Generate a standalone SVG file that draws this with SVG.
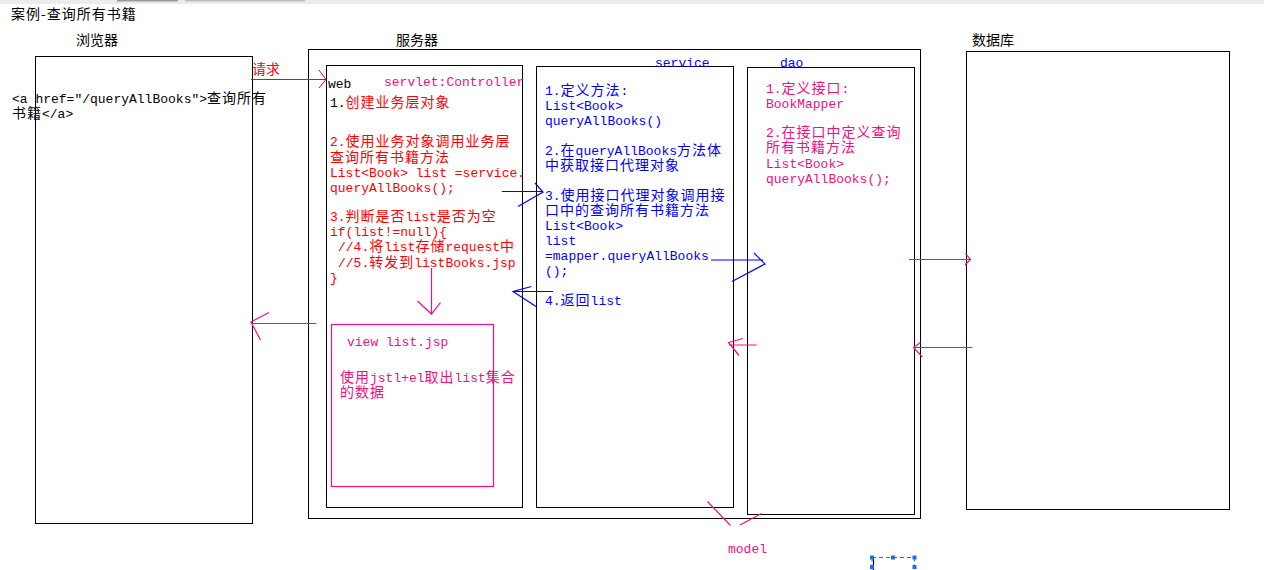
<svg xmlns="http://www.w3.org/2000/svg" width="1264" height="570" viewBox="0 0 1264 570">
  <style>
    .box{fill:none;stroke:#000;stroke-width:1}
    .m{font-family:"Liberation Mono",monospace;font-size:13px}
    .c{font-family:"Noto Sans CJK SC",sans-serif;font-size:14px;letter-spacing:1px}
    .h{font-family:"Noto Sans CJK SC",sans-serif;font-size:14px;fill:#000}
    .k{fill:#000}
    .red{fill:#f00}
    .blue{fill:#00f}
    .pink{fill:#f0107f}
    .lr{stroke:#f00;fill:none;stroke-width:1}
    .lb{stroke:#00f;fill:none;stroke-width:1.2}
    .lp{stroke:#f0107f;fill:none;stroke-width:1.2}
  </style>

  <rect x="0" y="0" width="1264" height="570" fill="#fff"/>
  <!-- window chrome strip -->
  <rect x="0" y="0" width="1264" height="4" fill="#ececec"/>
  <rect x="117" y="0" width="61" height="1.5" fill="#9a9a9a"/>
  <rect x="185" y="0" width="120" height="1.5" fill="#bdbdbd"/>

  <text class="c" x="11" y="19">案例-查询所有书籍</text>

  <!-- browser -->
  <g id="browser">
    <text class="h" x="76" y="45">浏览器</text>
    <rect class="box" x="35.5" y="56.5" width="217" height="467"/>
    <text class="m k"><tspan x="12" y="103">&lt;a href="/queryAllBooks"&gt;<tspan class="c">查询所有</tspan></tspan><tspan x="12" y="118"><tspan class="c">书籍</tspan>&lt;/a&gt;</tspan></text>
  </g>

  <!-- server frame -->
  <g id="server">
    <text class="h" x="396" y="45">服务器</text>
    <rect class="box" x="308.5" y="49.5" width="612" height="469"/>
  </g>

  <!-- web layer: servlet controller -->
  <g id="web">
    <rect class="box" x="326.5" y="65.5" width="196" height="442"/>
    <text class="m k" x="328" y="88">web</text>
    <text class="m pink" x="384" y="86">servlet:Controller</text>
    <text class="m red">
      <tspan x="330" y="107"><tspan class="k">1.</tspan><tspan class="c">创建业务层对象</tspan></tspan>
      <tspan x="330" y="146">2.<tspan class="c">使用业务对象调用业务层</tspan></tspan>
      <tspan x="330" y="162"><tspan class="c">查询所有书籍方法</tspan></tspan>
      <tspan x="330" y="177">List&lt;Book&gt; list =service.</tspan>
      <tspan x="330" y="192">queryAllBooks();</tspan>
      <tspan x="330" y="221">3.<tspan class="c">判断是否</tspan>list<tspan class="c">是否为空</tspan></tspan>
      <tspan x="330" y="236">if(list!=null){</tspan>
      <tspan x="338" y="251">//4.<tspan class="c">将</tspan>list<tspan class="c">存储</tspan>request<tspan class="c">中</tspan></tspan>
      <tspan x="338" y="267">//5.<tspan class="c">转发到</tspan>listBooks.jsp</tspan>
      <tspan x="330" y="282">}</tspan>
    </text>
  </g>

  <!-- view page -->
  <g id="view">
    <rect x="331.5" y="324.5" width="162" height="162" fill="none" stroke="#f0107f" stroke-width="1.2"/>
    <text class="m pink" x="347" y="346">view list.jsp</text>
    <text class="m pink">
      <tspan x="340" y="382"><tspan class="c">使用</tspan>jstl+el<tspan class="c">取出</tspan>list<tspan class="c">集合</tspan></tspan>
      <tspan x="340" y="397"><tspan class="c">的数据</tspan></tspan>
    </text>
  </g>

  <!-- service layer -->
  <g id="service">
    <rect class="box" x="536.5" y="66.5" width="197" height="441"/>
    <text class="m blue" x="655" y="67">service</text>
    <text class="m blue">
      <tspan x="545" y="95">1.<tspan class="c">定义方法</tspan>:</tspan>
      <tspan x="545" y="110">List&lt;Book&gt;</tspan>
      <tspan x="545" y="125">queryAllBooks()</tspan>
      <tspan x="545" y="155">2.<tspan class="c">在</tspan>queryAllBooks<tspan class="c">方法体</tspan></tspan>
      <tspan x="545" y="170"><tspan class="c">中获取接口代理对象</tspan></tspan>
      <tspan x="545" y="200">3.<tspan class="c">使用接口代理对象调用接</tspan></tspan>
      <tspan x="545" y="215"><tspan class="c">口中的查询所有书籍方法</tspan></tspan>
      <tspan x="545" y="230">List&lt;Book&gt;</tspan>
      <tspan x="545" y="245">list</tspan>
      <tspan x="545" y="260">=mapper.queryAllBooks</tspan>
      <tspan x="545" y="275">();</tspan>
      <tspan x="545" y="305">4.<tspan class="c">返回</tspan>list</tspan>
    </text>
  </g>

  <!-- dao layer -->
  <g id="dao">
    <rect class="box" x="747.5" y="67.5" width="167" height="447"/>
    <text class="m blue" x="780" y="67">dao</text>
    <text class="m pink">
      <tspan x="766" y="93">1.<tspan class="c">定义接口</tspan>:</tspan>
      <tspan x="766" y="108">BookMapper</tspan>
      <tspan x="766" y="137">2.<tspan class="c">在接口中定义查询</tspan></tspan>
      <tspan x="766" y="152"><tspan class="c">所有书籍方法</tspan></tspan>
      <tspan x="766" y="168">List&lt;Book&gt;</tspan>
      <tspan x="766" y="183">queryAllBooks();</tspan>
    </text>
  </g>

  <!-- database -->
  <g id="database">
    <text class="h" x="972" y="45">数据库</text>
    <rect class="box" x="966.5" y="51.5" width="263" height="458"/>
  </g>

  <!-- model label -->
  <g id="model">
    <text class="m pink" x="728" y="553">model</text>
  </g>

  <!-- connectors -->
  <g id="connectors">
    <!-- request: browser to web -->
    <text class="h red" x="252" y="74" style="fill:#f00">请求</text>
    <path class="lr" d="M251 79.5H326M319 70L326 79.5L319 88"/>
    <!-- web to service -->
    <path class="lb" d="M502 191.5H543M535 183L543 192L518 206.5"/>
    <!-- service back to web -->
    <path class="lb" d="M553 291.5H513M531.5 286.5L513 291.5L536 306.5"/>
    <!-- service to dao -->
    <path class="lb" d="M711 260H763M754 253L765 264L732 281.5"/>
    <!-- dao to database -->
    <path class="lp" d="M909 259.5H970M965.5 253.5L970.5 259.5L965 265"/>
    <!-- database back to dao -->
    <path class="lp" d="M972.5 347.5H913.5M920.5 342.5L913.5 347.5L922.5 357"/>
    <!-- dao back to service -->
    <path class="lp" d="M756.5 345H729M743 338.5L728.5 342.5L739 355.5"/>
    <!-- web forward to view -->
    <path class="lp" d="M431.5 268V314M417.5 301L431.5 314L440.5 302.5"/>
    <!-- web response to browser -->
    <path class="lp" d="M316.5 323.5H251M269 312.5L251 322L260.5 340"/>
    <!-- model ticks -->
    <path class="lp" d="M707.5 501.5L730.5 525.5M740 525L761.5 513.5"/>
  </g>

  <!-- selection handles -->
  <g id="selection">
    <path d="M872 557.5H914.5M872 557.5V570M914.5 557.5V567" fill="none" stroke="#1a73d9" stroke-width="1" stroke-dasharray="4 3"/>
    <line x1="873.5" y1="559" x2="873.5" y2="570" stroke="#000" stroke-width="1.2"/>
    <g fill="#1a73d9">
      <rect x="870" y="555.5" width="4" height="4"/>
      <rect x="891" y="555.5" width="4" height="4"/>
      <rect x="912.5" y="555.5" width="4" height="4"/>
      <rect x="870" y="565" width="4" height="4"/>
      <rect x="912.5" y="565" width="4" height="4"/>
    </g>
  </g>
</svg>
